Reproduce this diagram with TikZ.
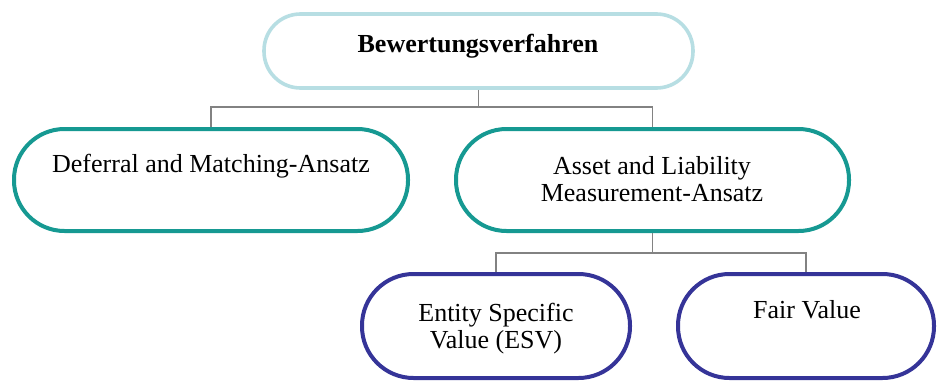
\documentclass[tikz,border=0pt]{standalone}
\usepackage{fontspec}
\setmainfont{Liberation Serif}
\usepackage{tikz}

\definecolor{paleblue}{RGB}{183,222,227}
\definecolor{boxteal}{RGB}{22,153,146}
\definecolor{boxblue}{RGB}{53,52,152}
\definecolor{linegray}{RGB}{130,130,130}

\begin{document}
\begin{tikzpicture}[x=1pt,y=-1pt,
        stadium/.style={draw=#1, line width=4pt, fill=white},
        boxtext/.style={inner sep=0pt, align=center, font=\fontsize{26}{27}\selectfont},
        conn/.style={draw=linegray, line width=1.6pt}]
        	\useasboundingbox (0,0) rectangle (937,383);
        	% boxes
        	\node[stadium=paleblue, line width=3.6pt, minimum width=429, minimum height=74, rounded corners=36.5] (bew) at (478.5,51) {};
        	\node[stadium=boxteal, minimum width=394, minimum height=102, rounded corners=50.5] (dm) at (211,180) {};
        	\node[stadium=boxteal, minimum width=393, minimum height=102, rounded corners=50.5] (alm) at (652.5,180) {};
        	\node[stadium=boxblue, minimum width=268, minimum height=104, rounded corners=51.5] (esv) at (496,326) {};
        	\node[stadium=boxblue, minimum width=256, minimum height=104, rounded corners=51.5] (fv) at (806,326) {};
        	% texts
        	\node[boxtext, anchor=base, font=\fontsize{26}{27}\selectfont\bfseries] (bew-t) at (478,52) {Bewertungsverfahren};
        	\node[boxtext, anchor=base] (dm-t) at (211,172) {Deferral and Matching-Ansatz};
        	\node[boxtext, anchor=north] (alm-t) at (652,156) {Asset and Liability\\Measurement-Ansatz};
        	\node[boxtext, anchor=north] (esv-t) at (496,303) {Entity Specific\\Value (ESV)};
        	\node[boxtext, anchor=base] (fv-t) at (807,318) {Fair Value};
        	% connectors
        	\coordinate (j1) at (478.5,107);
        	\coordinate (j2) at (652.5,253);
        	\draw[conn] (bew.south) -- (j1);
        	\draw[conn] (dm.north) -- (dm.north |- j1) -- (alm.north |- j1) -- (alm.north);
        	\draw[conn] (alm.south) -- (j2);
        	\draw[conn] (esv.north) -- (esv.north |- j2) -- (fv.north |- j2) -- (fv.north);
        \end{tikzpicture}
\end{document}
